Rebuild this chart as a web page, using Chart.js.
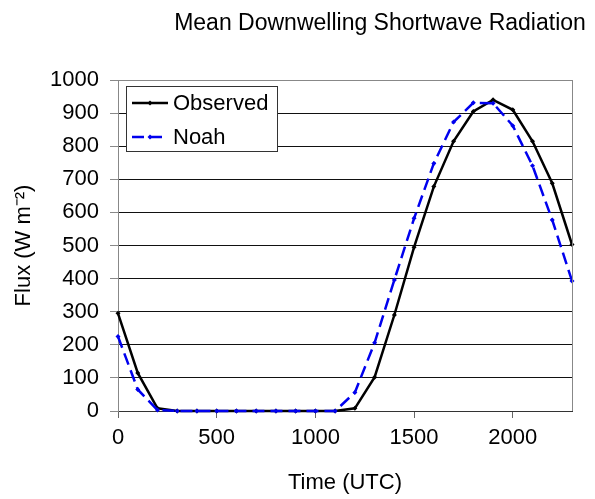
<!DOCTYPE html>
<html>
<head>
<meta charset="utf-8">
<script src="https://cdn.jsdelivr.net/npm/chart.js@4"></script>
<style>
  html, body { margin: 0; padding: 0; background: #fff; }
  #wrap { width: 595px; height: 499px; }
</style>
</head>
<body>
<div id="wrap"><canvas id="fluxChart" width="595" height="499"></canvas></div>
<script>
// time of day (UTC, hhmm) and mean flux values
const times = [0, 100, 200, 300, 400, 500, 600, 700, 800, 900, 1000, 1100,
               1200, 1300, 1400, 1500, 1600, 1700, 1800, 1900, 2000, 2100, 2200, 2300];
const observed = [295, 115, 8, 0, 0, 0, 0, 0, 0, 0, 0, 0,
                  8, 102, 290, 495, 678, 815, 905, 940, 910, 815, 688, 503];
const noah = [225, 65, 3, 0, 0, 0, 0, 0, 0, 0, 0, 0,
              56, 206, 396, 582, 748, 873, 931, 930, 862, 741, 577, 393];
const xTicks = [0, 500, 1000, 1500, 2000];
const chartTitle = 'Mean Downwelling Shortwave Radiation';

const FONT = "'Liberation Sans', Arial, sans-serif";

function toPoints(values) {
    return times.map((t, i) => ({ x: t, y: values[i] }));
}

// title, right/top border and the boxed legend inside the plot
const decorations = {
    id: 'decorations',
    afterDraw(chart) {
        const ctx = chart.ctx;
        const area = chart.chartArea;
        ctx.save();

        ctx.fillStyle = '#000';
        ctx.font = '23px ' + FONT;
        ctx.textAlign = 'center';
        ctx.textBaseline = 'alphabetic';
        ctx.fillText(chartTitle, 380, 29.5);

        ctx.strokeStyle = '#888';
        ctx.lineWidth = 1;
        ctx.beginPath();
        ctx.moveTo(area.right + 0.5, area.top);
        ctx.lineTo(area.right + 0.5, area.bottom);
        ctx.moveTo(area.left, area.top + 0.5);
        ctx.lineTo(area.right, area.top + 0.5);
        ctx.stroke();

        // legend box
        const bx = area.left + 8, by = area.top + 6, bw = 151, bh = 65;
        ctx.fillStyle = '#fff';
        ctx.fillRect(bx, by, bw, bh);
        ctx.strokeStyle = '#333';
        ctx.strokeRect(bx + 0.5, by + 0.5, bw, bh);

        chart.data.datasets.forEach((ds, i) => {
            const y = by + 17 + i * 34;
            const x0 = bx + 6, x1 = bx + 42;
            ctx.strokeStyle = ds.borderColor;
            ctx.lineWidth = ds.borderWidth;
            ctx.setLineDash(ds.borderDash || []);
            ctx.beginPath();
            ctx.moveTo(x0, y);
            ctx.lineTo(x1, y);
            ctx.stroke();
            ctx.setLineDash([]);
            ctx.fillStyle = ds.pointBackgroundColor;
            ctx.beginPath();
            const mx = (x0 + x1) / 2, r = 2.5;
            ctx.moveTo(mx, y - r);
            ctx.lineTo(mx + r, y);
            ctx.lineTo(mx, y + r);
            ctx.lineTo(mx - r, y);
            ctx.closePath();
            ctx.fill();
            ctx.fillStyle = '#000';
            ctx.font = '22px ' + FONT;
            ctx.textAlign = 'left';
            ctx.textBaseline = 'middle';
            ctx.fillText(ds.label, bx + 47, y + 1);
        });
        ctx.restore();
    }
};

const ctx = document.getElementById('fluxChart').getContext('2d');
new Chart(ctx, {
    type: 'line',
    data: {
        datasets: [
            {
                label: 'Observed',
                data: toPoints(observed),
                borderColor: '#000',
                borderWidth: 2.5,
                pointStyle: 'rectRot',
                pointRadius: 2.5,
                pointBackgroundColor: '#000',
                pointBorderColor: '#000',
                pointBorderWidth: 0,
                tension: 0,
                clip: 6,
                order: 1
            },
            {
                label: 'Noah',
                data: toPoints(noah),
                borderColor: '#0000ee',
                borderWidth: 2.5,
                borderDash: [12, 6],
                pointStyle: 'rectRot',
                pointRadius: 2.5,
                pointBackgroundColor: '#0000ee',
                pointBorderColor: '#0000ee',
                pointBorderWidth: 0,
                tension: 0,
                clip: 6,
                order: 0
            }
        ]
    },
    options: {
        responsive: false,
        animation: false,
        layout: { padding: { top: 80, right: 23, left: 0, bottom: 0 } },
        plugins: {
            legend: { display: false },
            tooltip: { enabled: false },
            title: { display: false }
        },
        scales: {
            x: {
                type: 'linear',
                min: 0,
                max: 2300,
                afterBuildTicks: scale => {
                    scale.ticks = xTicks.map(v => ({ value: v }));
                },
                afterFit: scale => { scale.height = 88; },
                grid: {
                    drawOnChartArea: false,
                    drawTicks: true,
                    tickLength: 7,
                    tickColor: '#666'
                },
                border: { display: true, color: '#333', width: 1 },
                ticks: {
                    color: '#000',
                    padding: 7,
                    maxRotation: 0,
                    callback: v => String(v),
                    font: { family: FONT, size: 22 }
                },
                title: {
                    display: true,
                    text: 'Time (UTC)',
                    color: '#000',
                    font: { family: FONT, size: 22 },
                    padding: { top: 0, bottom: 3 }
                }
            },
            y: {
                min: 0,
                max: 1000,
                afterFit: scale => { scale.width = 118; },
                ticks: {
                    stepSize: 100,
                    color: '#000',
                    padding: 11,
                    callback: v => String(v),
                    font: { family: FONT, size: 22 }
                },
                grid: {
                    color: '#111',
                    lineWidth: 1,
                    tickLength: 8,
                    tickColor: '#888'
                },
                border: { display: true, color: '#888', width: 1 },
                title: {
                    display: true,
                    text: 'Flux (W m⁻²)',
                    color: '#000',
                    font: { family: FONT, size: 22 },
                    padding: { top: 11, bottom: 0 }
                }
            }
        }
    },
    plugins: [decorations]
});
</script>
</body>
</html>
